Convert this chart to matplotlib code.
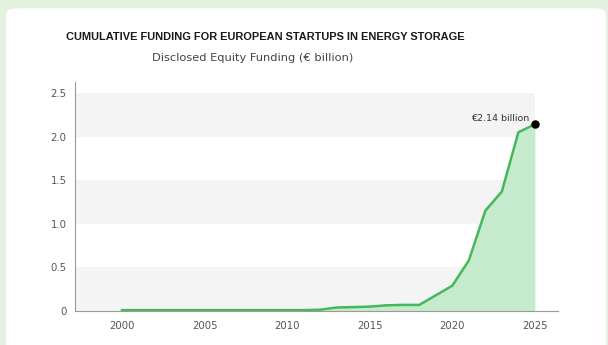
import matplotlib.pyplot as plt
from matplotlib import font_manager
from matplotlib.patches import FancyBboxPatch

# disclosed equity funding, cumulative, EUR billion
years = list(range(2000, 2026))
funding = [0.01, 0.01, 0.01, 0.01, 0.01, 0.01, 0.01, 0.01, 0.01, 0.01,
           0.01, 0.01, 0.015, 0.04, 0.045, 0.05, 0.065, 0.07, 0.07, 0.18,
           0.29, 0.58, 1.15, 1.37, 2.05, 2.14]
y_ticks = [0, 0.5, 1.0, 1.5, 2.0, 2.5]
y_labels = ["0", "0.5", "1.0", "1.5", "2.0", "2.5"]
x_ticks = [2000, 2005, 2010, 2015, 2020, 2025]
bands = [(0, 0.5), (1.0, 1.5), (2.0, 2.5)]
title = "CUMULATIVE FUNDING FOR EUROPEAN STARTUPS IN ENERGY STORAGE"
subtitle = "Disclosed Equity Funding (€ billion)"

BG = "#e3f2df"
LINE = "#45b85b"
FILL = "#c5ebcc"
BAND = "#f4f4f4"
TICK = "#555555"

fig = plt.figure(figsize=(6.08, 3.45), dpi=100)
fig.patch.set_facecolor(BG)

# white card
card = FancyBboxPatch((6 / 608, -0.05), 600 / 608, (334 + 20) / 345,
                      boxstyle="round,pad=0,rounding_size=0.02",
                      transform=fig.transFigure, facecolor="white",
                      edgecolor="none", zorder=-10)
fig.patches.append(card)

ax = fig.add_axes([75 / 608, 34 / 345, 483 / 608, 229 / 345])
ax.set_zorder(5)
ax.set_facecolor("none")
x0, x1 = 1997.15, 2026.4
ax.set_xlim(x0, x1)
ax.set_ylim(0, 2.626)

for lo, hi in bands:
    ax.fill_between([x0, years[-1]], lo, hi, color=BAND, linewidth=0, zorder=0)

ax.fill_between(years, 0, funding, color=FILL, linewidth=0, zorder=1)
ax.plot(years, funding, color=LINE, linewidth=1.8, zorder=2)
ax.scatter([years[-1]], [funding[-1]], s=26, color="black", zorder=3)
ax.annotate(f"€{funding[-1]:.2f} billion", (years[-1], funding[-1]),
            xytext=(-4, 1), textcoords="offset points", ha="right", va="bottom",
            fontsize=6.8, color="#333333")

ax.set_yticks(y_ticks)
ax.set_yticklabels(y_labels)
ax.set_xticks(x_ticks)
ax.tick_params(length=0, labelsize=7.3, labelcolor=TICK)
ax.tick_params(axis="x", pad=7)
ax.tick_params(axis="y", pad=6)
for side in ["top", "right"]:
    ax.spines[side].set_visible(False)
for side in ["left", "bottom"]:
    ax.spines[side].set_color("#9a9a9a")
    ax.spines[side].set_linewidth(0.8)

tp = font_manager.FontProperties(family=["Liberation Sans", "DejaVu Sans"],
                                 weight="bold", size=11)
t = fig.text(265 / 608, 1 - 37 / 345, title, ha="center", va="center",
             fontproperties=tp, color="#1a1a1a")
fig.text(253 / 608, 1 - 58 / 345, subtitle,
         ha="center", va="center", fontsize=8.2, color="#444444")

# no condensed face here, so let the title run a bit wider than the reference
r = fig.canvas.get_renderer()
w = t.get_window_extent(r).width
tp.set_size(min(11, 11 * 395 / w))
t.set_fontproperties(tp)

fig.savefig("out.png", dpi=100, facecolor=BG)
